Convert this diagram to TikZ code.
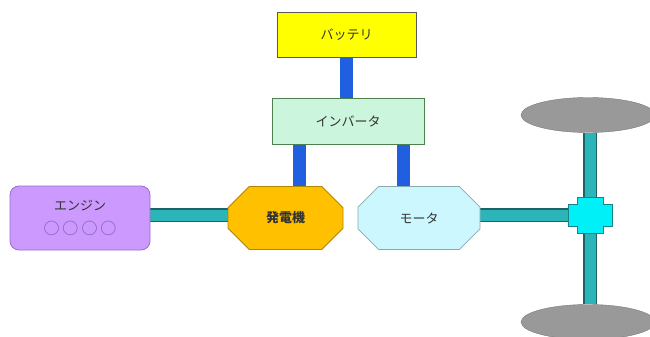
\documentclass[tikz,border=0pt]{standalone}
\usepackage{fontspec}
\newfontfamily\jp{Noto Sans CJK JP}
\usetikzlibrary{shapes.misc,shapes.geometric,backgrounds}
\definecolor{bat}{HTML}{FFFF00}
\definecolor{inv}{HTML}{CCF5DD}
\definecolor{eng}{HTML}{CC99FF}
\definecolor{engb}{HTML}{9A6FC8}
\definecolor{gen}{HTML}{FFC000}
\definecolor{genb}{HTML}{B08600}
\definecolor{mot}{HTML}{CCF7FF}
\definecolor{motb}{HTML}{8AA8B0}
\definecolor{bluebar}{HTML}{1F5FE0}
\definecolor{tealbar}{HTML}{2CB5B8}
\definecolor{tealb}{HTML}{1D6468}
\definecolor{hubc}{HTML}{00F0F8}
\definecolor{wheel}{HTML}{999999}
\definecolor{txt}{HTML}{333333}
\definecolor{circ}{HTML}{7A5AA8}
\tikzset{
  box/.style={draw=#1, line width=0.8pt, inner sep=0pt, font=\jp\fontsize{13}{15}\selectfont, text=txt},
  octa/.style={chamfered rectangle, chamfered rectangle corners={north east, north west, south east, south west}, draw=#1, line width=0.8pt, inner sep=0pt, font=\jp\fontsize{13}{15}\selectfont, text=txt},
  bluebus/.style={draw=bluebar, line width=13pt},
  shaft/.style={draw=tealb, line width=1.4pt, double=tealbar, double distance=11pt},
  wheelsh/.style={ellipse, fill=wheel, draw=wheel!80!black, line width=0.4pt, inner sep=0pt}
}
\begin{document}
\begin{tikzpicture}[x=1pt,y=-1pt]
\useasboundingbox (0,0) rectangle (650,337);
\node[box=black!65, fill=bat, minimum width=139pt, minimum height=45pt] (bat) at (346.5,34.5) {バッテリ};
\node[box=black!50!green!40!gray, fill=inv, minimum width=152pt, minimum height=46pt] (inv) at (348,121) {インバータ};
\node[box=engb, fill=eng, rounded corners=9pt, minimum width=140pt, minimum height=64pt, align=center] (eng) at (80,218) {エンジン\\[9pt]{\color{circ}\fontsize{16}{16}\selectfont ○\kern3pt○\kern3pt○\kern3pt○}};
\node[octa=genb, fill=gen, chamfered rectangle xsep=17pt, chamfered rectangle ysep=15pt, minimum width=115pt, minimum height=63pt, font=\jp\bfseries\fontsize{13}{15}\selectfont] (gen) at (285.5,218) {発電機};
\node[octa=motb, fill=mot, chamfered rectangle xsep=20pt, chamfered rectangle ysep=15pt, minimum width=122pt, minimum height=63pt] (mot) at (419,218) {モータ};
\node[wheelsh, minimum width=134pt, minimum height=35pt] (w1) at (588,115) {};
\node[wheelsh, minimum width=134pt, minimum height=35pt] (w2) at (588,322) {};
\coordinate (hub) at (590,215);
\begin{scope}[on background layer]
  \fill[white] (0,0) rectangle (650,337);
  \draw[bluebus] (bat.south) -- (bat.south |- inv.north);
  \draw[bluebus] ([xshift=13.5pt]gen.north) -- ([xshift=13.5pt]gen.north |- inv.south);
  \draw[bluebus] ([xshift=-16pt]mot.north) -- ([xshift=-16pt]mot.north |- inv.south);
  \draw[shaft] ([yshift=3pt]eng.east) -- ([yshift=3pt]eng.east -| gen.west);
  \draw[shaft] ([yshift=3pt]mot.east) -- (hub);
  \draw[shaft] (hub |- w1.south) -- (hub |- w2.north);
\end{scope}
\draw[fill=hubc, draw=tealb!80!cyan, line width=0.8pt]
  ([shift={(-13,-18)}]hub) -- ([shift={(13,-18)}]hub) -- ([shift={(13,-11)}]hub) -- ([shift={(22,-11)}]hub)
  -- ([shift={(22,11)}]hub) -- ([shift={(13,11)}]hub) -- ([shift={(13,18)}]hub) -- ([shift={(-13,18)}]hub)
  -- ([shift={(-13,11)}]hub) -- ([shift={(-22,11)}]hub) -- ([shift={(-22,-11)}]hub) -- ([shift={(-13,-11)}]hub) -- cycle;
\end{tikzpicture}
\end{document}
